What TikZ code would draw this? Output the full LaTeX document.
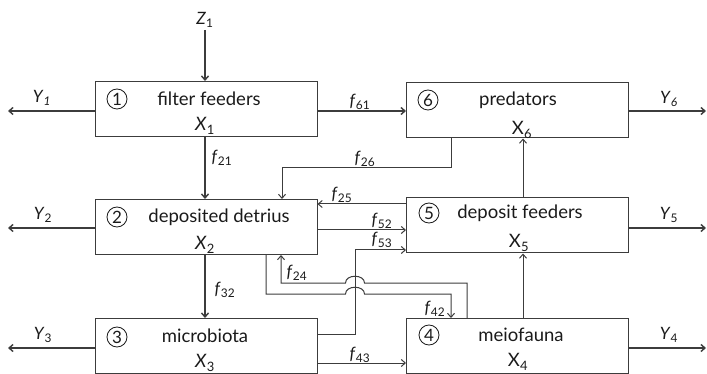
\documentclass[tikz,border=0pt]{standalone}
\usepackage{fontspec}
\setmainfont{Lato}
\usetikzlibrary{arrows.meta}
\definecolor{lc}{HTML}{3C3C3C}
\definecolor{tc}{HTML}{1A1A1A}
\newcommand\sbs[1]{\textsubscript{#1}}
\begin{document}
\begin{tikzpicture}[x=1pt,y=-1pt,
  ln/.style={draw=lc, line width=1pt},
  arr/.style={ln, -{Straight Barb[length=4pt,width=7pt]}},
  thk/.style={line width=1.4pt},
  box/.style={draw=lc, line width=1pt, minimum width=222pt, minimum height=55pt, inner sep=0pt},
  num/.style={circle, draw=tc, line width=0.8pt, minimum size=20pt, inner sep=0pt, text=tc, font=\fontsize{17}{17}\selectfont},
  txt/.style={font=\fontsize{18.5}{18.5}\selectfont, text=tc, inner sep=0pt},
  lab/.style={font=\fontsize{17}{17}\selectfont, text=tc, inner sep=0pt}]
\useasboundingbox (0,0) rectangle (707,374);
% boxes
\node[box] (b1) at (206,109) {};
\node[box] (b2) at (206,227) {};
\node[box] (b3) at (206,346) {};
\node[box] (b6) at (517.5,110.5) {};
\node[box] (b5) at (517.5,225.5) {};
\node[box] (b4) at (517.5,346) {};
% box contents
\node[num] (n1) at (117,99) {1};
\node[num] (n2) at (117,217) {2};
\node[num] (n3) at (117,337) {3};
\node[num] (n6) at (428,100) {6};
\node[num] (n5) at (429,213) {5};
\node[num] (n4) at (429,335) {4};
\node[txt] (t1) at (209,99) {filter feeders};
\node[txt] (t2) at (219,217) {deposited detrius};
\node[txt] (t3) at (205,336) {microbiota};
\node[txt] (t6) at (518,100) {predators};
\node[txt] (t5) at (520,213) {deposit feeders};
\node[txt] (t4) at (521,335) {meiofauna};
\node[txt] (x1) at (205,126) {\textit{X}\sbs{1}};
\node[txt] (x2) at (205,245) {\textit{X}\sbs{2}};
\node[txt] (x3) at (205,363) {\textit{X}\sbs{3}};
\node[txt] (x6) at (522,130) {X\sbs{6}};
\node[txt] (x5) at (519,243) {X\sbs{5}};
\node[txt] (x4) at (518,362) {X\sbs{4}};
% helper coordinates
\coordinate (le) at (8,0);
\coordinate (re) at (706,0);
\coordinate (r1) at (0,111);
\coordinate (r2) at (0,228);
\coordinate (r3) at (0,348);
\coordinate (z1top) at (205,30);
\coordinate (k26) at (451,168);
\coordinate (k26b) at (282,168);
\coordinate (k25) at (0,204);
\coordinate (k52) at (0,230);
\coordinate (k53a) at (355,334);
\coordinate (k53b) at (355,250);
\coordinate (k24a) at (467,283);
\coordinate (k24b) at (281,283);
\coordinate (j1) at (355,283);
\coordinate (k42a) at (266,294);
\coordinate (k42b) at (451,294);
\coordinate (j2) at (355,294);
\coordinate (k43) at (0,363);
\coordinate (k56) at (523,0);
% inputs / outputs
\node[lab] (z1) at (205,20) {\textit{Z}\sbs{1}};
\draw[arr,thk] (z1top) -- (z1top |- b1.north);
\draw[arr,thk] (b1.west |- r1) -- (le |- r1);
\draw[arr,thk] (b2.west |- r2) -- (le |- r2);
\draw[arr,thk] (b3.west |- r3) -- (le |- r3);
\draw[arr,thk] (b6.east |- r1) -- (re |- r1);
\draw[arr,thk] (b5.east |- r2) -- (re |- r2);
\draw[arr,thk] (b4.east |- r3) -- (re |- r3);
\node[lab] (ly1) at (42,98) {\textit{Y}\sbs{\textit{1}}};
\node[lab] (ly2) at (43,215) {\textit{Y}\sbs{2}};
\node[lab] (ly3) at (43,335) {\textit{Y}\sbs{3}};
\node[lab] (ly6) at (669,99) {\textit{Y}\sbs{\textit{6}}};
\node[lab] (ly5) at (669,215) {\textit{Y}\sbs{5}};
\node[lab] (ly4) at (669,335) {\textit{Y}\sbs{4}};
% flows
\draw[arr,thk] (b1.south -| z1top) -- (b2.north -| z1top);
\draw[arr,thk] (b2.south -| z1top) -- (b3.north -| z1top);
\draw[arr,thk] (b1.east |- r1) -- (b6.west |- r1);
\draw[arr] (b6.south -| k26) -- (k26) -- (k26b) -- (k26b |- b2.north);
\draw[arr] (b5.west |- k25) -- (b2.east |- k25);
\draw[arr] (b2.east |- k52) -- (b5.west |- k52);
\draw[arr] (b3.east |- k53a) -- (k53a) -- (k53b) -- (b5.west |- k53b);
\draw[arr] (b4.north -| k24a) -- (k24a) -- ([xshift=9.5pt]j1)
  .. controls ([xshift=9.5pt,yshift=9pt]j1) and ([xshift=-9.5pt,yshift=9pt]j1) .. ([xshift=-9.5pt]j1)
  -- (k24b) -- (k24b |- b2.south);
\draw[arr] (b2.south -| k42a) -- (k42a) -- ([xshift=-9.5pt]j2)
  .. controls ([xshift=-9.5pt,yshift=9pt]j2) and ([xshift=9.5pt,yshift=9pt]j2) .. ([xshift=9.5pt]j2)
  -- (k42b) -- (k42b |- b4.north);
\draw[arr] (b3.east |- k43) -- (b4.west |- k43);
\draw[arr] (b5.north -| k56) -- (b6.south -| k56);
\draw[arr] (b4.north -| k56) -- (b5.south -| k56);
% flow labels
\node[lab] (f21) at (222,158) {\textit{f}\sbs{21}};
\node[lab] (f32) at (225,290) {\textit{f}\sbs{32}};
\node[lab] (f61) at (360,102) {\textit{f}\sbs{61}};
\node[lab] (f26) at (365,159) {\textit{f}\sbs{26}};
\node[lab] (f25) at (342,195) {\textit{f}\sbs{25}};
\node[lab] (f52) at (382,221) {\textit{f}\sbs{52}};
\node[lab] (f53) at (382,240) {\textit{f}\sbs{53}};
\node[lab] (f24) at (297,273) {\textit{f}\sbs{24}};
\node[lab] (f42) at (435,309) {\textit{f}\sbs{42}};
\node[lab] (f43) at (360,355) {\textit{f}\sbs{43}};
\end{tikzpicture}
\end{document}
